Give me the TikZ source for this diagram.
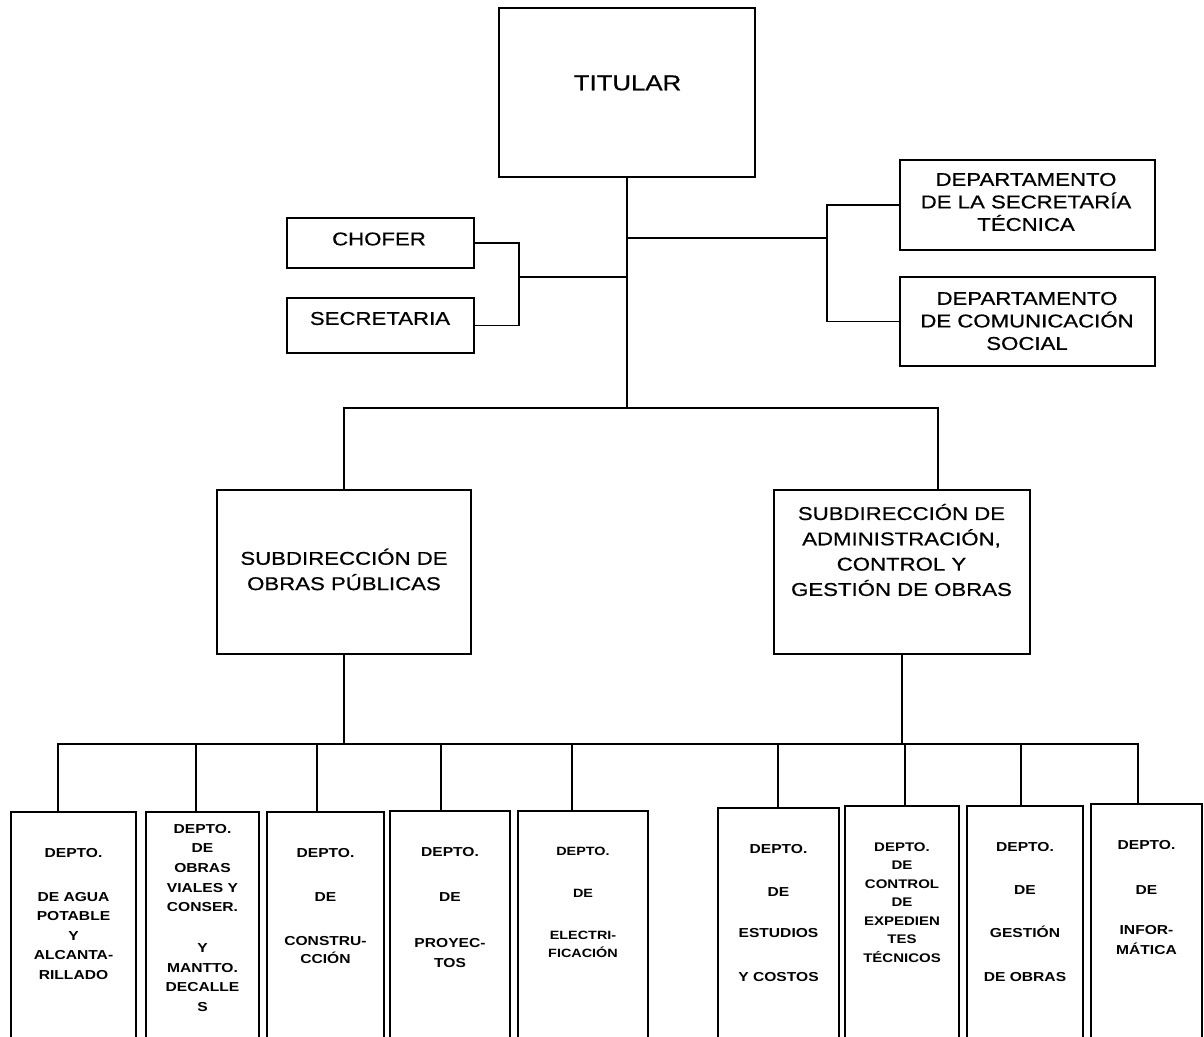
\documentclass[tikz,border=0pt]{standalone}
\usepackage{fontspec}
\newfontfamily\ar[FakeStretch=1.2]{Liberation Sans}
\newfontfamily\arup[FakeStretch=1.2,FakeBold=0.6]{Liberation Sans}
\begin{document}
\begin{tikzpicture}[x=1pt,y=-1pt,
  box/.style={draw, line width=2.1pt, inner sep=0pt, outer sep=0pt},
  con/.style={line width=1.8pt},
  txt/.style={align=center, inner sep=0pt},
  ttl/.style={txt, font=\arup\fontsize{21.5}{25}\selectfont},
  up/.style={txt, font=\arup\fontsize{18.5}{22.5}\selectfont},
  sub/.style={txt, font=\arup\fontsize{18.5}{25.3}\selectfont},
  low/.style={txt, font=\ar\bfseries\fontsize{13}{20}\selectfont}]
\useasboundingbox (0,0) rectangle (1204,1036);
\clip (0,0) rectangle (1204,1036);
\fill[white] (0,0) rectangle (1204,1036);

% upper boxes
\node[box, minimum width=256pt, minimum height=169pt] (titular) at (627,92.5) {};
\node[box, minimum width=187pt, minimum height=50pt] (chofer) at (380.5,243) {};
\node[box, minimum width=187pt, minimum height=55pt] (secretaria) at (380.5,325.5) {};
\node[box, minimum width=255pt, minimum height=90pt] (dst) at (1027.5,205) {};
\node[box, minimum width=255pt, minimum height=89pt] (dcs) at (1027.5,321.5) {};
\node[box, minimum width=254pt, minimum height=164pt] (subA) at (344,572) {};
\node[box, minimum width=256pt, minimum height=164pt] (subB) at (902,572) {};

% upper texts
\node[ttl] (titularT) at (627.5,83) {TITULAR};
\node[up] (choferT) at (379,239) {CHOFER};
\node[up] (secretariaT) at (380,318.5) {SECRETARIA};
\node[up] (dstT) at (1026,202) {DEPARTAMENTO\\DE LA SECRETARÍA\\TÉCNICA};
\node[up] (dcsT) at (1027,321) {DEPARTAMENTO\\DE COMUNICACIÓN\\SOCIAL};
\node[sub] (subAT) at (344,569.5) {SUBDIRECCIÓN DE\\OBRAS PÚBLICAS};
\node[sub] (subBT) at (901.5,550) {SUBDIRECCIÓN DE\\ADMINISTRACIÓN,\\CONTROL Y\\GESTIÓN DE OBRAS};

% bottom boxes
\node[box, minimum width=125pt, minimum height=238pt] (d1) at (73.5,931) {};
\node[box, minimum width=113pt, minimum height=238pt] (d2) at (202.5,931) {};
\node[box, minimum width=117pt, minimum height=238pt] (d3) at (325.5,931) {};
\node[box, minimum width=120pt, minimum height=239pt] (d4) at (450,930.5) {};
\node[box, minimum width=130pt, minimum height=239pt] (d5) at (583,930.5) {};
\node[box, minimum width=121pt, minimum height=242pt] (d6) at (778.5,929) {};
\node[box, minimum width=114pt, minimum height=244pt] (d7) at (902,928) {};
\node[box, minimum width=116pt, minimum height=244pt] (d8) at (1025,928) {};
\node[box, minimum width=111pt, minimum height=246pt] (d9) at (1146.5,927) {};

% bottom texts
\node[low, font=\ar\bfseries\fontsize{13}{19.5}\selectfont] (d1T) at (73.5,914)
  {DEPTO.\\[24.5pt]DE AGUA\\POTABLE\\Y\\ALCANTA-\\RILLADO};
\node[low, font=\ar\bfseries\fontsize{13}{19.6}\selectfont] (d2T) at (202.5,918)
  {DEPTO.\\DE\\OBRAS\\VIALES Y\\CONSER.\\[21.4pt]Y\\MANTTO.\\DECALLE\\S};
\node[low, font=\ar\bfseries\fontsize{13}{18}\selectfont] (d3T) at (325.5,906)
  {DEPTO.\\[26pt]DE\\[26pt]CONSTRU-\\CCIÓN};
\node[low, font=\ar\bfseries\fontsize{13}{20}\selectfont] (d4T) at (450,907.5)
  {DEPTO.\\[25pt]DE\\[26pt]PROYEC-\\TOS};
\node[low, font=\ar\bfseries\fontsize{12}{18}\selectfont] (d5T) at (583,902)
  {DEPTO.\\[24pt]DE\\[24pt]ELECTRI-\\FICACIÓN};
\node[low, font=\ar\bfseries\fontsize{13}{20}\selectfont] (d6T) at (778.5,913)
  {DEPTO.\\[23pt]DE\\[21pt]ESTUDIOS\\[24pt]Y COSTOS};
\node[low, font=\ar\bfseries\fontsize{12.5}{18.5}\selectfont] (d7T) at (902,902.5)
  {DEPTO.\\DE\\CONTROL\\DE\\EXPEDIEN\\TES\\TÉCNICOS};
\node[low, font=\ar\bfseries\fontsize{13}{20}\selectfont] (d8T) at (1025,912)
  {DEPTO.\\[23pt]DE\\[23pt]GESTIÓN\\[24pt]DE OBRAS};
\node[low, font=\ar\bfseries\fontsize{13}{20}\selectfont] (d9T) at (1146.5,897.5)
  {DEPTO.\\[25pt]DE\\[20pt]INFOR-\\MÁTICA};

% junction coordinates
\coordinate (j2) at (627,408);
\coordinate (lj) at (519,277);
\coordinate (rj) at (827,238);
\coordinate (subBtop) at (938,490);
\coordinate (j3) at (600,744);
\coordinate (t1) at (58,812);
\coordinate (t2) at (196,812);
\coordinate (t3) at (317,812);
\coordinate (t4) at (441,811);
\coordinate (t5) at (572,811);
\coordinate (t6) at (778,808);
\coordinate (t7) at (905,806);
\coordinate (t8) at (1021,806);
\coordinate (t9) at (1138,804);

% connectors
\draw[con] (titular.south) -- (j2);
\draw[con] (chofer.east) -| (lj) |- (secretaria.east);
\draw[con] (lj) -- (lj -| titular.south);
\draw[con] (dst.west) -| (rj) |- (dcs.west);
\draw[con] (rj) -- (rj -| titular.south);
\draw[con] (subA.north) |- (j2);
\draw[con] (subBtop) |- (j2);
\draw[con] (subA.south) -- (subA.south |- j3);
\draw[con] (subB.south) -- (subB.south |- j3);
\draw[con] (t1) -- (t1 |- j3) -- (t9 |- j3) -- (t9);
\draw[con] (t2) -- (t2 |- j3);
\draw[con] (t3) -- (t3 |- j3);
\draw[con] (t4) -- (t4 |- j3);
\draw[con] (t5) -- (t5 |- j3);
\draw[con] (t6) -- (t6 |- j3);
\draw[con] (t7) -- (t7 |- j3);
\draw[con] (t8) -- (t8 |- j3);
\end{tikzpicture}
\end{document}
